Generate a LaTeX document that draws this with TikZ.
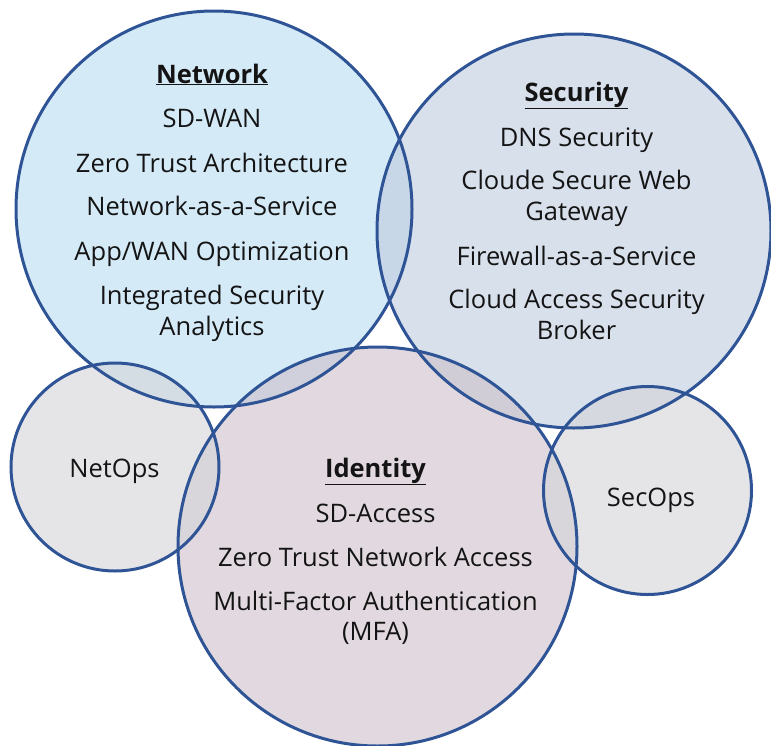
\documentclass[tikz,border=0pt]{standalone}
\usepackage{fontspec}
\setmainfont{Open Sans}
\definecolor{ringblue}{RGB}{47,84,150}
\definecolor{netfill}{RGB}{185,220,242}
\definecolor{secfill}{RGB}{190,203,223}
\definecolor{idfill}{RGB}{205,192,202}
\definecolor{opsfill}{RGB}{212,212,216}
\definecolor{txt}{RGB}{20,20,20}
\tikzset{
  disc/.style={fill opacity=0.6},
  ring/.style={draw=ringblue, line width=3pt},
  item/.style={anchor=base, inner sep=0pt, text=txt, font=\fontsize{25.5}{30}\selectfont},
  head/.style={item, font=\fontsize{25.5}{30}\selectfont\bfseries}
}
\begin{document}
\begin{tikzpicture}[x=1pt, y=-1pt]
\useasboundingbox (0,0) rectangle (771,745);

% translucent discs first, so overlaps darken
\path[disc, fill=netfill] (214,209) circle[radius=198pt];
\path[disc, fill=secfill] (574,231) circle[radius=197pt];
\path[disc, fill=idfill]  (377.5,546.5) circle[radius=199.5pt];
\path[disc, fill=opsfill] (115,467) circle[radius=104pt];
\path[disc, fill=opsfill] (647.5,490.5) circle[radius=104pt];

% outlines on top
\draw[ring] (214,209) circle[radius=198pt];
\draw[ring] (574,231) circle[radius=197pt];
\draw[ring] (377.5,546.5) circle[radius=199.5pt];
\draw[ring] (115,467) circle[radius=104pt];
\draw[ring] (647.5,490.5) circle[radius=104pt];

% Network
\node[head] (nethead) at (212,83) {\underline{Network}};
\node[item] (net1) at (212,127) {SD-WAN};
\node[item] (net2) at (212,172) {Zero Trust Architecture};
\node[item] (net3) at (212,215) {Network-as-a-Service};
\node[item] (net4) at (212,260) {App/WAN Optimization};
\node[item] (net5a) at (212,304) {Integrated Security};
\node[item] (net5b) at (212,335) {Analytics};

% Security
\node[head] (sechead) at (576.5,101) {\underline{Security}};
\node[item] (sec1) at (576.5,146) {DNS Security};
\node[item] (sec2a) at (576.5,189) {Cloude Secure Web};
\node[item] (sec2b) at (576.5,220) {Gateway};
\node[item] (sec3) at (576.5,265) {Firewall-as-a-Service};
\node[item] (sec4a) at (576.5,308) {Cloud Access Security};
\node[item] (sec4b) at (576.5,339) {Broker};

% Identity
\node[head] (idhead) at (375.5,477) {\underline{Identity}};
\node[item] (id1) at (375.5,522) {SD-Access};
\node[item] (id2) at (375.5,566) {Zero Trust Network Access};
\node[item] (id3a) at (375.5,610) {Multi-Factor Authentication};
\node[item] (id3b) at (375.5,640) {(MFA)};

% Ops
\node[item] (netops) at (114.5,477) {NetOps};
\node[item] (secops) at (651,506) {SecOps};
\end{tikzpicture}
\end{document}
